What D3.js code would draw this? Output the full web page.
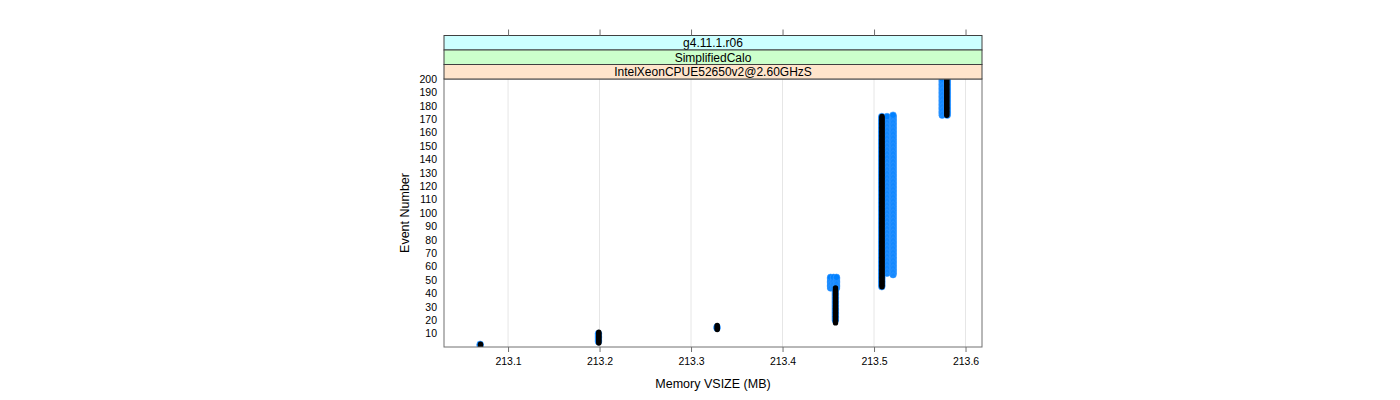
<!DOCTYPE html>
<html><head><meta charset="utf-8">
<script src="https://cdn.jsdelivr.net/npm/d3@7"></script>
<style>
body{margin:0;background:#fff}
svg{display:block}
text{font-family:"Liberation Sans",Arial,Helvetica,sans-serif;fill:#000}
</style>
</head><body>
<svg id="chart" width="1400" height="400"></svg>
<script>
// ---- data ----
const stripLabels = ["g4.11.1.r06", "SimplifiedCalo", "IntelXeonCPUE52650v2@2.60GHzS"];
const xTicks = [213.1, 213.2, 213.3, 213.4, 213.5, 213.6];
const yTicks = [10, 20, 30, 40, 50, 60, 70, 80, 90, 100, 110, 120, 130, 140, 150, 160, 170, 180, 190, 200];

// black series: memory value per run of consecutive events
const blackMem   = [213.0699, 213.1992, 213.3286, 213.4579, 213.5087, 213.5795];
const blackFirst = [1, 3, 13, 18, 45, 173];
const blackLast  = [2, 11, 16, 44, 172, 200];

// blue series (several runs of the same colour)
const blueMem   = [213.0695, 213.1988, 213.3284, 213.4577, 213.4525, 213.4558, 213.4590, 213.5085, 213.5142, 213.5208, 213.5745, 213.5800];
const blueFirst = [1, 4, 14, 20, 44, 44, 44, 45, 55, 54, 173, 173];
const blueLast  = [2, 10, 15, 42, 52, 52, 52, 172, 172, 173, 200, 200];

// ---- layout ----
const P = {left: 444, right: 982, top: 79, bottom: 347};
const stripH = 14.5, nStrips = stripLabels.length;
const stripColors = ["#ffe5cc", "#ccffcc", "#ccffff"]; // bottom -> top

const svg = d3.select("#chart");
const x = d3.scaleLinear().domain([213.030, 213.618]).range([P.left, P.right]);
const y = d3.scaleLinear().domain([0, 200]).range([P.bottom, P.top]);

function expand(mem, first, last) {
  const pts = [];
  mem.forEach((m, i) => {
    for (let e = first[i]; e <= last[i]; e++) pts.push({mem: m, ev: e});
  });
  return pts;
}
const blackPts = expand(blackMem, blackFirst, blackLast);
const bluePts = expand(blueMem, blueFirst, blueLast);

// clip
svg.append("defs").append("clipPath").attr("id", "clip")
  .append("rect").attr("x", P.left).attr("y", P.top)
  .attr("width", P.right - P.left).attr("height", P.bottom - P.top);

// grid
svg.append("g").selectAll("line").data(xTicks).join("line")
  .attr("x1", d => x(d)).attr("x2", d => x(d))
  .attr("y1", P.top).attr("y2", P.bottom)
  .attr("stroke", "#e6e6e6").attr("stroke-width", 1);

// points
const pg = svg.append("g").attr("clip-path", "url(#clip)");
pg.selectAll("circle.blue").data(bluePts).join("circle").attr("class", "blue")
  .attr("cx", d => x(d.mem)).attr("cy", d => y(d.ev)).attr("r", 3.3)
  .attr("fill", "#0080ff").attr("stroke", "#3d9bff").attr("stroke-width", 0.6);
pg.selectAll("circle.black").data(blackPts).join("circle").attr("class", "black")
  .attr("cx", d => x(d.mem)).attr("cy", d => y(d.ev)).attr("r", 2.7)
  .attr("fill", "#000");

// panel border
svg.append("rect").attr("x", P.left).attr("y", P.top)
  .attr("width", P.right - P.left).attr("height", P.bottom - P.top)
  .attr("fill", "none").attr("stroke", "#707070");

// strips
const sg = svg.append("g");
stripLabels.forEach((lab, i) => {
  const idxFromBottom = nStrips - 1 - i;
  const y0 = P.top - (idxFromBottom + 1) * stripH;
  sg.append("rect").attr("x", P.left).attr("y", y0)
    .attr("width", P.right - P.left).attr("height", stripH)
    .attr("fill", stripColors[idxFromBottom]).attr("stroke", "#404040");
  sg.append("text").attr("x", (P.left + P.right) / 2).attr("y", y0 + stripH / 2 + 0.5)
    .attr("text-anchor", "middle").attr("dominant-baseline", "central")
    .attr("font-size", 12).text(lab);
});
const stripTop = P.top - nStrips * stripH;

// bottom axis
const xb = svg.append("g").attr("transform", `translate(0,${P.bottom})`)
  .call(d3.axisBottom(x).tickValues(xTicks).tickFormat(d3.format(".1f")).tickSize(5).tickPadding(6));
xb.select(".domain").remove();
xb.selectAll("line").attr("stroke", "#707070");
xb.selectAll("text").attr("font-size", 10.5).attr("font-family", "Liberation Sans, Arial, sans-serif");

// top ticks (above strips)
const xt = svg.append("g").attr("transform", `translate(0,${stripTop})`)
  .call(d3.axisTop(x).tickValues(xTicks).tickSize(6).tickFormat(""));
xt.select(".domain").remove();
xt.selectAll("line").attr("stroke", "#707070");

// left labels
const yl = svg.append("g").attr("transform", `translate(${P.left},0)`)
  .call(d3.axisLeft(y).tickValues(yTicks).tickSize(0).tickPadding(7));
yl.select(".domain").remove();
yl.selectAll("text").attr("font-size", 10.5).attr("font-family", "Liberation Sans, Arial, sans-serif");

// titles
svg.append("text").attr("x", (P.left + P.right) / 2).attr("y", 384)
  .attr("text-anchor", "middle").attr("dominant-baseline", "central")
  .attr("font-size", 12.5).text("Memory VSIZE (MB)");
svg.append("text").attr("transform", `translate(405,${(P.top + P.bottom) / 2}) rotate(-90)`)
  .attr("text-anchor", "middle").attr("dominant-baseline", "central")
  .attr("font-size", 12.5).text("Event Number");
</script>
</body></html>
